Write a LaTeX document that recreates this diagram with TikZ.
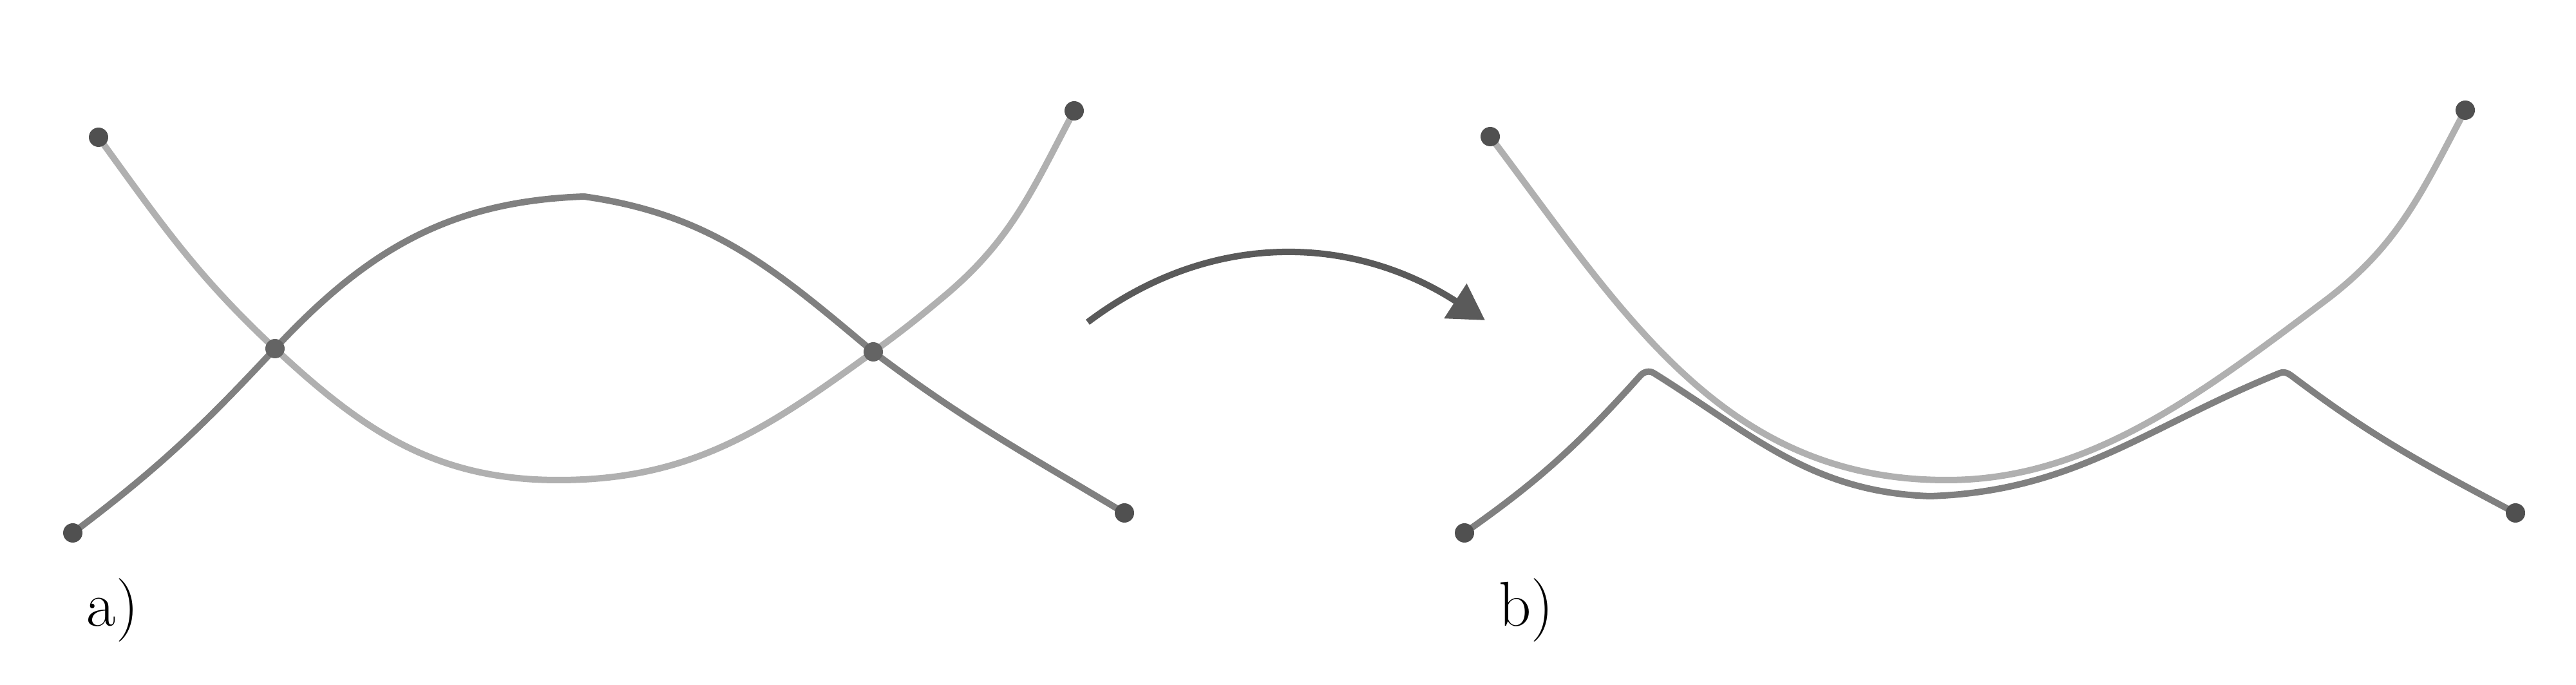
\documentclass[tikz,border=0pt]{standalone}
\usepackage{fontspec}
\usetikzlibrary{arrows.meta}
\definecolor{hell}{HTML}{B0B0B0}
\definecolor{dunkel}{HTML}{808080}
\definecolor{punkt}{HTML}{505050}
\definecolor{kreuz}{HTML}{646464}
\definecolor{pfeil}{HTML}{5A5A5A}
\begin{document}
\begin{tikzpicture}[
  hellkurve/.style={draw=hell,line width=1mm,line cap=round},
  dunkelkurve/.style={draw=dunkel,line width=1mm,line cap=round,line join=round},
  beschriftung/.style={font=\fontsize{28}{32}\selectfont,inner sep=0pt}
]
  \useasboundingbox (0,0) rectangle (40,10.63);
  % Punkte links (a)
  \coordinate (A1) at (1.53,8.50);
  \coordinate (A2) at (16.68,8.91);
  \coordinate (B1) at (1.13,2.36);
  \coordinate (B2) at (17.46,2.67);
  \coordinate (X1) at (4.27,5.22);
  \coordinate (X2) at (13.56,5.17);
  \coordinate (Lm) at (8.67,3.18);
  \coordinate (Lr) at (14.67,6.04);
  \coordinate (T) at (9.07,7.58);
  % Punkte rechts (b)
  \coordinate (C1) at (23.14,8.51);
  \coordinate (C2) at (38.28,8.92);
  \coordinate (D1) at (22.74,2.36);
  \coordinate (D2) at (39.06,2.67);
  \coordinate (Cm) at (30.23,3.18);
  \coordinate (Cr) at (36.10,5.96);
  \coordinate (K1a) at (25.47,4.80);
  \coordinate (K1b) at (25.68,4.84);
  \coordinate (Dm) at (29.97,2.93);
  \coordinate (K2a) at (35.40,4.84);
  \coordinate (K2b) at (35.62,4.77);
  % Pfeil
  \coordinate (P) at (16.89,5.63);
  \coordinate (Q) at (23.06,5.66);
  % Kurven links
  \draw[hellkurve] (A1) to[out=-54,in=137] (X1) to[out=-43,in=180] (Lm)
    to[out=0,in=216] (X2) to[out=36,in=220] (Lr) to[out=40,in=242] (A2);
  \draw[dunkelkurve] (B1) to[out=37,in=227] (X1) to[out=47,in=182] (T)
    to[out=-8,in=140] (X2) to[out=-37,in=149] (B2);
  % Kurven rechts
  \draw[hellkurve] (C1) to[out=-53,in=180] (Cm) to[out=0,in=217,out looseness=0.85] (Cr)
    to[out=37,in=242] (C2);
  \draw[dunkelkurve] (D1) to[out=35,in=228] (K1a) to[out=48,in=148] (K1b)
    to[out=-32,in=178] (Dm) to[out=2,in=202] (K2a) to[out=22,in=143] (K2b)
    to[out=-37,in=152] (D2);
  % Endpunkte
  \foreach \p in {A1,A2,B1,B2,C1,C2,D1,D2}
    \fill[punkt] (\p) circle (1.5mm);
  \foreach \p in {X1,X2}
    \fill[kreuz] (\p) circle (1.5mm);
  % Pfeil von a) nach b)
  \draw[pfeil,line width=1mm,-{Triangle[length=5.5mm,width=6.2mm]}]
    (P) to[out=37,in=147] (Q);
  % Beschriftung
  \node[beschriftung] (la) at (1.75,1.16) {a)};
  \node[beschriftung] (lb) at (23.70,1.16) {b)};
\end{tikzpicture}
\end{document}
